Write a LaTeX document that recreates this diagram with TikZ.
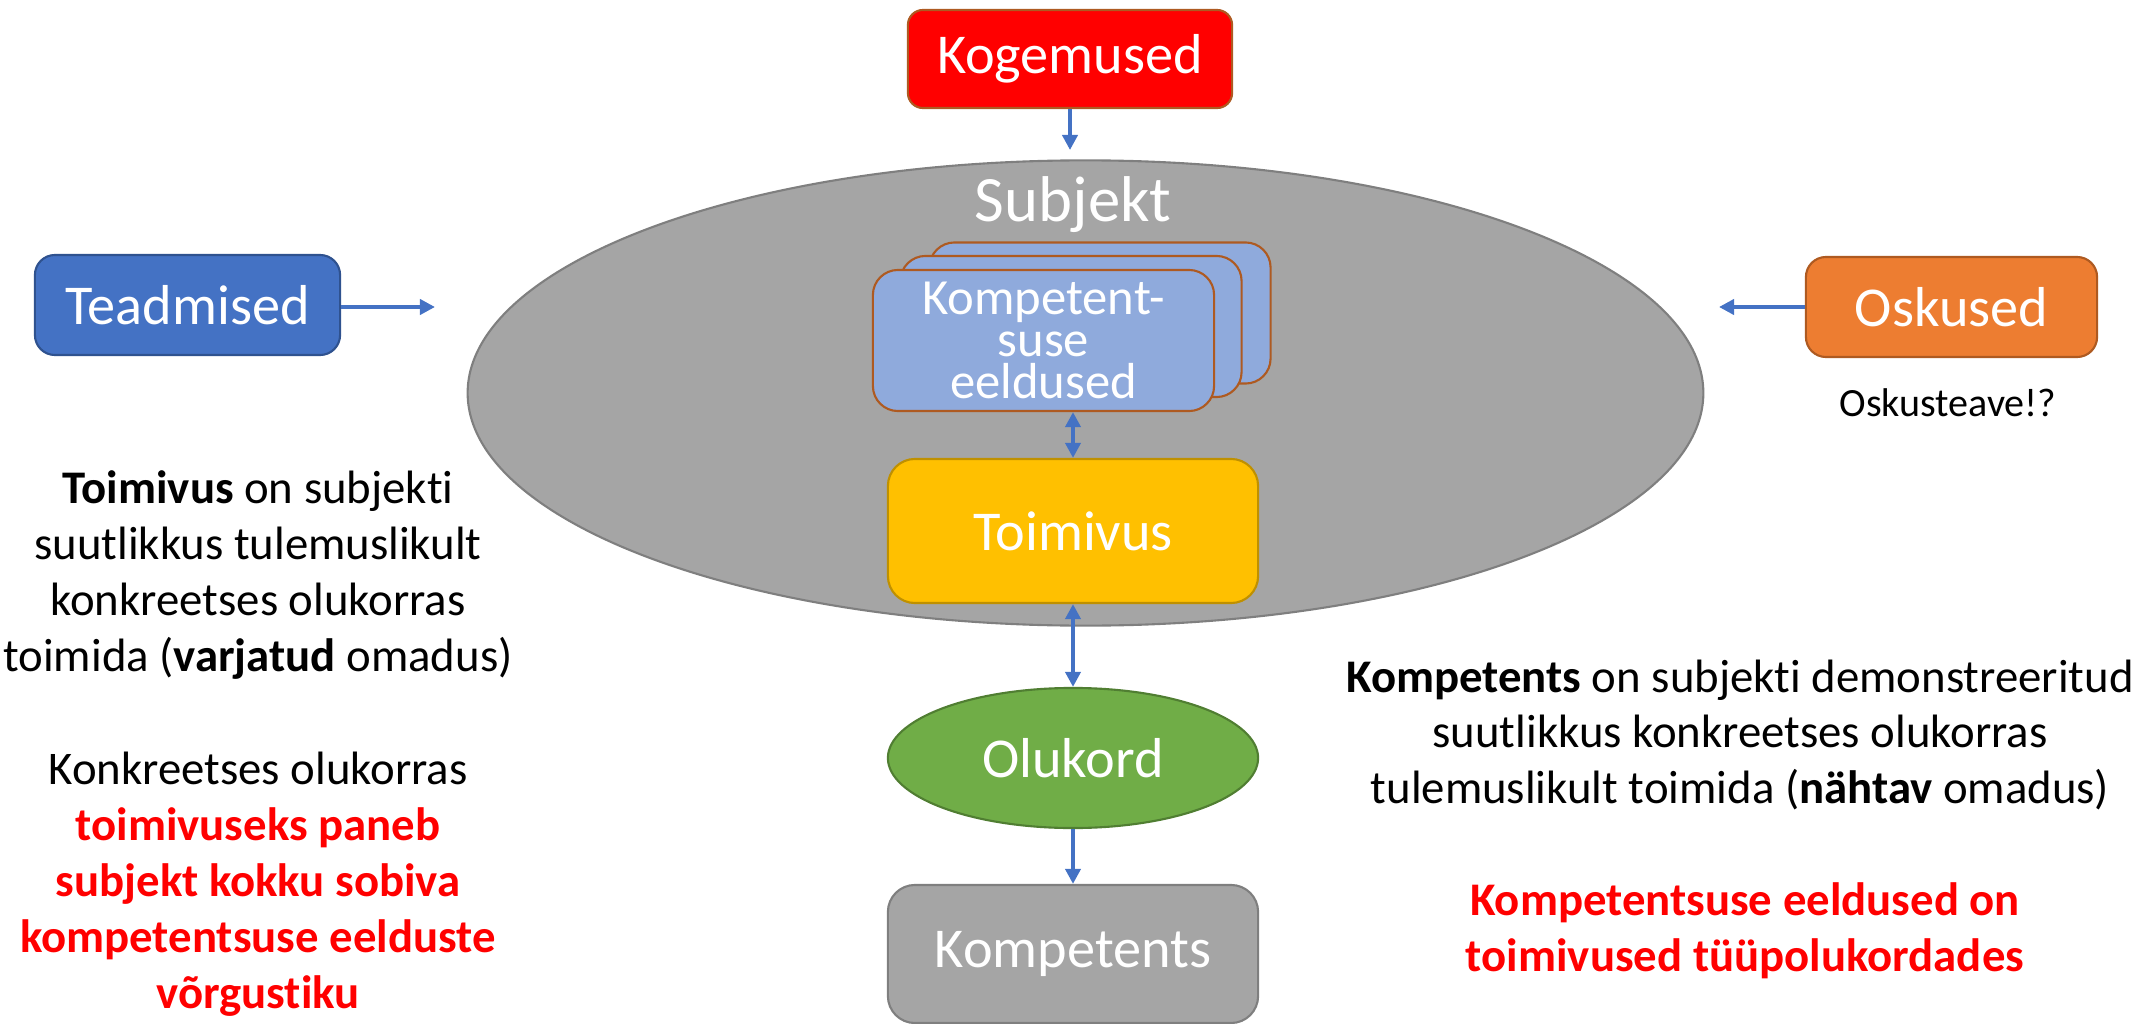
\documentclass[tikz,border=0pt]{standalone}
\usepackage{fontspec}
\setmainfont{Carlito}[Ligatures=NoCommon]
\usetikzlibrary{arrows.meta,shapes.geometric,positioning}

\definecolor{kogered}{RGB}{255,0,0}
\definecolor{rustline}{RGB}{174,90,33}
\definecolor{teadblue}{RGB}{68,114,196}
\definecolor{teadline}{RGB}{47,82,143}
\definecolor{oskorange}{RGB}{237,125,49}
\definecolor{eeldblue}{RGB}{143,170,220}
\definecolor{toimgold}{RGB}{255,192,0}
\definecolor{toimline}{RGB}{191,144,0}
\definecolor{olugreen}{RGB}{112,173,71}
\definecolor{oluline}{RGB}{80,126,50}
\definecolor{subjgray}{RGB}{165,165,165}
\definecolor{subjline}{RGB}{127,127,127}

\begin{document}
\begin{tikzpicture}[
    x=0.01cm, y=-0.01cm,
    box/.style={
        rectangle,
        rounded corners=0.2cm,
        line width=0.6pt,
        inner sep=0pt,
        text=white,
        font=\fontsize{16}{19}\selectfont
    },
    eeldbox/.style={
        box,
        rounded corners=0.25cm,
        minimum width=3.41cm,
        minimum height=1.41cm,
        draw=rustline,
        fill=eeldblue,
        align=center,
        font=\fontsize{14.4}{12}\selectfont
    },
    body/.style={
        align=center,
        inner sep=0pt,
        font=\fontsize{13.3}{15.9}\selectfont
    },
    link/.style={
        draw=teadblue,
        line width=1.4pt,
        -{Triangle[length=0.15cm,width=0.15cm]}
    },
    biarrow/.style={
        link,
        {Triangle[length=0.15cm,width=0.15cm]}-{Triangle[length=0.15cm,width=0.15cm]}
    }
]
\useasboundingbox (0,0) rectangle (2141,1024);

% Subject
\node[ellipse, draw=subjline, fill=subjgray, line width=0.6pt,
      minimum width=12.35cm, minimum height=4.65cm] (subj) at (1085.5,393) {};
\node[text=white, inner sep=0pt, font=\fontsize{18.4}{22}\selectfont] (subjlbl) at (1073,205) {Subjekt};

% Inputs
\node[box, draw=rustline, fill=kogered, rounded corners=0.15cm,
      minimum width=3.24cm, minimum height=0.98cm] (kog) at (1070,59) {Kogemused};
\node[box, draw=teadline, fill=teadblue,
      minimum width=3.05cm, minimum height=1cm] (tead) at (187.5,305) {Teadmised};
\node[box, draw=rustline, fill=oskorange,
      minimum width=2.91cm, minimum height=1cm] (osk) at (1951.5,307) {Oskused};
\node[inner sep=0pt, font=\fontsize{11.4}{14}\selectfont] (oskteave) at (1948,403) {Oskusteave!?};

% Competence prerequisites (stack)
\node[eeldbox] (eeld3) at (1100,313) {};
\node[eeldbox] (eeld2) at (1071,326.5) {};
\node[eeldbox] (eeld) at (1043.5,340.5) {\raisebox{0.12cm}{\parbox{3.2cm}{\centering Kompetent-\\suse\\eeldused}}};

% Performance chain
\node[box, draw=toimline, fill=toimgold, rounded corners=0.27cm,
      minimum width=3.7cm, minimum height=1.44cm] (toim) at (1073,531) {Toimivus};
\node[ellipse, draw=oluline, fill=olugreen, line width=0.6pt, inner sep=0pt,
      text=white, font=\fontsize{16}{19}\selectfont,
      minimum width=3.7cm, minimum height=1.4cm] (olu) at (1073,758) {Olukord};
\node[box, draw=subjline, fill=subjgray, rounded corners=0.27cm,
      minimum width=3.7cm, minimum height=1.38cm] (komp) at (1073,954) {Kompetents};

% Texts
\node[body] (toimdef) at (258,575) {\textbf{Toimivus} on subjekti\\suutlikkus tulemuslikult\\konkreetses olukorras\\toimida (\textbf{varjatud} omadus)};
\node[body] (toimnote) at (258,884.5) {Konkreetses olukorras\\\color{kogered}\bfseries toimivuseks paneb\\\color{kogered}\bfseries subjekt kokku sobiva\\\color{kogered}\bfseries kompetentsuse eelduste\\\color{kogered}\bfseries võrgustiku};
\node[body] (kompdef) at (1740,735) {\textbf{Kompetents} on subjekti demonstreeritud\\suutlikkus konkreetses olukorras\\tulemuslikult toimida (\textbf{nähtav} omadus)};
\node[body, text=kogered, font=\fontsize{13.3}{15.9}\selectfont\bfseries] (kompnote) at (1745,931) {Kompetentsuse eeldused on\\toimivused tüüpolukordades};

% Arrows
\coordinate (kogend) at (1070,150);
\coordinate (teadend) at (435,307);
\coordinate (oskend) at (1719,307);
\draw[link] (kog) -- (kogend);
\draw[link] (tead.east |- teadend) -- (teadend);
\draw[link] (osk.west |- oskend) -- (oskend);
\draw[biarrow] (eeld.south -| toim.north) -- (toim.north);
\draw[biarrow] (toim.south) -- (olu.north);
\draw[link] (olu.south) -- (komp.north);

\end{tikzpicture}
\end{document}
